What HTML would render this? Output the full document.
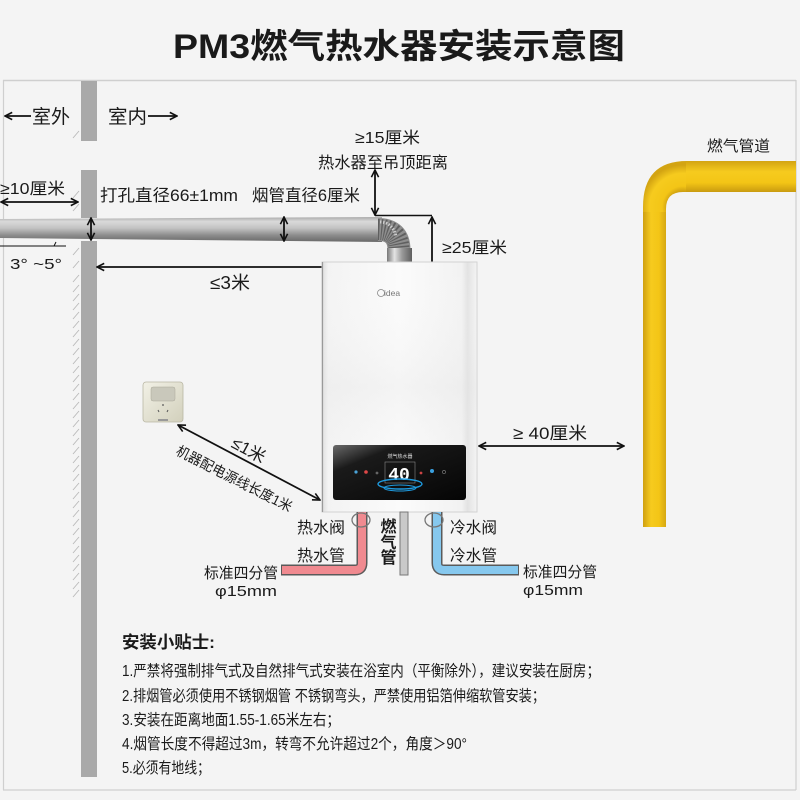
<!DOCTYPE html>
<html><head><meta charset="utf-8">
<style>
html,body{margin:0;padding:0;background:#f4f4f4;}
svg{display:block;}
text{font-family:"Liberation Sans","Noto Sans CJK SC",sans-serif;fill:#1a1a1a;}
</style></head>
<body>
<svg width="800" height="800" viewBox="0 0 800 800" xmlns="http://www.w3.org/2000/svg">
<defs>
  <marker id="ah" viewBox="0 0 10 10" refX="9" refY="5" markerWidth="9" markerHeight="9" markerUnits="userSpaceOnUse" orient="auto-start-reverse">
    <path d="M1,1 L9,5 L1,9" fill="none" stroke="#111" stroke-width="1.8"/>
  </marker>
  <linearGradient id="pipeG" x1="0" y1="0" x2="0" y2="1">
    <stop offset="0" stop-color="#a9a9a9"/>
    <stop offset="0.18" stop-color="#dadada"/>
    <stop offset="0.45" stop-color="#c2c2c2"/>
    <stop offset="0.72" stop-color="#8e8e8e"/>
    <stop offset="1" stop-color="#686868"/>
  </linearGradient>
  <linearGradient id="collarG" x1="0" y1="0" x2="1" y2="0">
    <stop offset="0" stop-color="#777"/>
    <stop offset="0.3" stop-color="#e4e4e4"/>
    <stop offset="0.6" stop-color="#9a9a9a"/>
    <stop offset="1" stop-color="#5e5e5e"/>
  </linearGradient>
  <linearGradient id="bodyG" x1="0" y1="0" x2="1" y2="0">
    <stop offset="0" stop-color="#dcdcdc"/>
    <stop offset="0.04" stop-color="#f3f3f3"/>
    <stop offset="0.5" stop-color="#fbfbfb"/>
    <stop offset="0.9" stop-color="#f2f2f2"/>
    <stop offset="0.94" stop-color="#e2e2e2"/>
    <stop offset="1" stop-color="#f4f4f4"/>
  </linearGradient>
  <linearGradient id="bodyV" x1="0" y1="0" x2="0" y2="1">
    <stop offset="0" stop-color="#ffffff" stop-opacity="0"/>
    <stop offset="0.5" stop-color="#e6e6e6" stop-opacity="0.35"/>
    <stop offset="1" stop-color="#ffffff" stop-opacity="0"/>
  </linearGradient>
  <linearGradient id="panelG" x1="0" y1="0" x2="1" y2="1">
    <stop offset="0" stop-color="#6a6a6a"/>
    <stop offset="0.25" stop-color="#1a1a1a"/>
    <stop offset="1" stop-color="#050505"/>
  </linearGradient>
  <linearGradient id="yelV" x1="0" y1="0" x2="1" y2="0">
    <stop offset="0" stop-color="#cf9f10"/>
    <stop offset="0.35" stop-color="#f6cb1e"/>
    <stop offset="0.7" stop-color="#f3c516"/>
    <stop offset="1" stop-color="#d6a712"/>
  </linearGradient>
  <linearGradient id="yelH" x1="0" y1="0" x2="0" y2="1">
    <stop offset="0" stop-color="#d3a412"/>
    <stop offset="0.35" stop-color="#f6cb1e"/>
    <stop offset="0.7" stop-color="#f3c516"/>
    <stop offset="1" stop-color="#c99b10"/>
  </linearGradient>
  <radialGradient id="yelC" cx="683" cy="207" r="42" gradientUnits="userSpaceOnUse">
    <stop offset="0.35" stop-color="#c99b10"/>
    <stop offset="0.5" stop-color="#f3c516"/>
    <stop offset="0.8" stop-color="#f6cb1e"/>
    <stop offset="1" stop-color="#d3a412"/>
  </radialGradient>
  <linearGradient id="sockG" x1="0" y1="0" x2="1" y2="1">
    <stop offset="0" stop-color="#f2f1e6"/>
    <stop offset="1" stop-color="#d2d0bc"/>
  </linearGradient>
</defs>

<!-- frame -->
<rect x="0" y="0" width="800" height="800" fill="#f4f4f4"/>
<line x1="3" y1="80.5" x2="796" y2="80.5" stroke="#cfcfcf" stroke-width="1.5"/>
<line x1="3.5" y1="80" x2="3.5" y2="790" stroke="#cfcfcf" stroke-width="1.2"/>
<line x1="796" y1="80" x2="796" y2="790" stroke="#cfcfcf" stroke-width="1.2"/>
<line x1="3" y1="790" x2="796" y2="790" stroke="#cfcfcf" stroke-width="1.2"/>

<!-- title -->
<text x="173" y="58" font-size="34" font-weight="bold" textLength="452" lengthAdjust="spacingAndGlyphs">PM3燃气热水器安装示意图</text>

<!-- wall -->
<rect x="81" y="81" width="16" height="60" fill="#a9a9a9"/>
<rect x="81" y="170" width="16" height="48" fill="#a9a9a9"/>
<rect x="81" y="241" width="16" height="536" fill="#a9a9a9"/>
<g stroke="#b9b9b9" stroke-width="0.9">
  <line x1="73" y1="138" x2="79" y2="131"/>
  <line x1="73" y1="198" x2="79" y2="191"/>
  <line x1="73" y1="211" x2="79" y2="204"/>
  <line x1="73" y1="255" x2="79" y2="248"/>
  <line x1="73" y1="268" x2="79" y2="261"/>
  <line x1="73" y1="282" x2="79" y2="275"/>
  <line x1="73" y1="292" x2="79" y2="285"/>
  <line x1="73" y1="301" x2="79" y2="294"/>
  <line x1="73" y1="310" x2="79" y2="303"/>
  <line x1="73" y1="319" x2="79" y2="312"/>
  <line x1="73" y1="328" x2="79" y2="321"/>
  <line x1="73" y1="337" x2="79" y2="330"/>
  <line x1="73" y1="346" x2="79" y2="339"/>
  <line x1="73" y1="355" x2="79" y2="348"/>
  <line x1="73" y1="364" x2="79" y2="357"/>
  <line x1="73" y1="373" x2="79" y2="366"/>
  <line x1="73" y1="382" x2="79" y2="375"/>
  <line x1="73" y1="391" x2="79" y2="384"/>
  <line x1="73" y1="400" x2="79" y2="393"/>
  <line x1="73" y1="409" x2="79" y2="402"/>
  <line x1="73" y1="418" x2="79" y2="411"/>
  <line x1="73" y1="427" x2="79" y2="420"/>
  <line x1="73" y1="436" x2="79" y2="429"/>
  <line x1="73" y1="445" x2="79" y2="438"/>
  <line x1="73" y1="454" x2="79" y2="447"/>
  <line x1="73" y1="463" x2="79" y2="456"/>
  <line x1="73" y1="472" x2="79" y2="465"/>
  <line x1="73" y1="481" x2="79" y2="474"/>
  <line x1="73" y1="490" x2="79" y2="483"/>
  <line x1="73" y1="499" x2="79" y2="492"/>
  <line x1="73" y1="508" x2="79" y2="501"/>
  <line x1="73" y1="517" x2="79" y2="510"/>
  <line x1="73" y1="526" x2="79" y2="519"/>
  <line x1="73" y1="535" x2="79" y2="528"/>
  <line x1="73" y1="544" x2="79" y2="537"/>
  <line x1="73" y1="553" x2="79" y2="546"/>
  <line x1="73" y1="562" x2="79" y2="555"/>
  <line x1="73" y1="571" x2="79" y2="564"/>
  <line x1="73" y1="580" x2="79" y2="573"/>
  <line x1="73" y1="589" x2="79" y2="582"/>
  <line x1="73" y1="597" x2="79" y2="590"/>
</g>

<!-- outdoor / indoor -->
<line x1="5" y1="116" x2="31" y2="116" stroke="#111" stroke-width="1.8" marker-start="url(#ah)"/>
<text x="32" y="123" font-size="19" textLength="38" lengthAdjust="spacingAndGlyphs">室外</text>
<text x="108" y="123" font-size="19" textLength="39" lengthAdjust="spacingAndGlyphs">室内</text>
<line x1="148" y1="116" x2="177" y2="116" stroke="#111" stroke-width="1.8" marker-end="url(#ah)"/>

<!-- flue pipe -->
<polygon points="0,219 382,217 382,242 0,238" fill="url(#pipeG)"/>
<path d="M378,229.5 Q399,229.5 399,250" fill="none" stroke="#8e8e8e" stroke-width="23"/>
<path d="M378,229.5 Q399,229.5 399,250" fill="none" stroke="#5f5f5f" stroke-width="21" stroke-dasharray="1.3 1.7"/>
<path d="M380,222 Q392,222 396,236" fill="none" stroke="#cfcfcf" stroke-width="3" stroke-dasharray="1.3 1.7"/>
<rect x="387" y="248" width="25" height="14" fill="url(#collarG)"/>

<!-- left side dims -->
<text x="0" y="194" font-size="16" textLength="65" lengthAdjust="spacingAndGlyphs">≥10厘米</text>
<line x1="1" y1="202" x2="78" y2="202" stroke="#111" stroke-width="1.8" marker-start="url(#ah)" marker-end="url(#ah)"/>
<line x1="0" y1="246" x2="66" y2="246" stroke="#111" stroke-width="1"/>
<line x1="54" y1="246" x2="56" y2="242" stroke="#111" stroke-width="1"/>
<text x="10" y="269" font-size="15" textLength="52" lengthAdjust="spacingAndGlyphs">3°  ~5°</text>
<line x1="91" y1="218" x2="91" y2="240" stroke="#111" stroke-width="1.8" marker-start="url(#ah)" marker-end="url(#ah)"/>
<text x="100" y="201" font-size="16.5" textLength="138" lengthAdjust="spacingAndGlyphs">打孔直径66±1mm</text>
<text x="252" y="201" font-size="16.5" textLength="108" lengthAdjust="spacingAndGlyphs">烟管直径6厘米</text>
<line x1="284" y1="217" x2="284" y2="241" stroke="#111" stroke-width="1.8" marker-start="url(#ah)" marker-end="url(#ah)"/>

<!-- <=3m -->
<line x1="97" y1="267" x2="322" y2="267" stroke="#111" stroke-width="1.8" marker-start="url(#ah)"/>
<text x="210" y="289" font-size="18" textLength="40" lengthAdjust="spacingAndGlyphs">≤3米</text>

<!-- top clearance -->
<text x="355" y="143" font-size="16" textLength="65" lengthAdjust="spacingAndGlyphs">≥15厘米</text>
<text x="318" y="168" font-size="16" textLength="130" lengthAdjust="spacingAndGlyphs">热水器至吊顶距离</text>
<line x1="375" y1="170" x2="375" y2="215" stroke="#111" stroke-width="1.8" marker-start="url(#ah)" marker-end="url(#ah)"/>
<line x1="375" y1="215.5" x2="432" y2="215.5" stroke="#111" stroke-width="1.6"/>
<line x1="432" y1="262" x2="432" y2="217" stroke="#111" stroke-width="1.8" marker-end="url(#ah)"/>
<text x="442" y="253" font-size="16" textLength="65" lengthAdjust="spacingAndGlyphs">≥25厘米</text>

<!-- heater -->
<rect x="322" y="262" width="155" height="250" fill="url(#bodyG)" stroke="#d2d2d2" stroke-width="1"/>
<rect x="322" y="262" width="155" height="250" fill="url(#bodyV)"/>
<line x1="322.5" y1="262" x2="322.5" y2="512" stroke="#9a9a9a" stroke-width="1.2"/>
<circle cx="381" cy="293" r="3.5" fill="none" stroke="#888" stroke-width="0.8"/>
<text x="384" y="296" font-size="8.5" style="fill:#777">idea</text>
<rect x="333" y="445" width="133" height="55" rx="3" fill="url(#panelG)"/>
<text x="400" y="458" font-size="5" text-anchor="middle" style="fill:#ddd">燃气热水器</text>
<rect x="385" y="462" width="30" height="21" fill="none" stroke="#888" stroke-width="0.6"/>
<text x="399" y="480" font-size="18" text-anchor="middle" style="fill:#fff;font-family:'Liberation Mono',monospace" font-weight="bold">40</text>
<ellipse cx="400" cy="484" rx="22" ry="5" fill="none" stroke="#1e9be0" stroke-width="1.4"/>
<ellipse cx="400" cy="488" rx="16" ry="3" fill="none" stroke="#1e9be0" stroke-width="1"/>
<circle cx="356" cy="472" r="1.6" fill="#4aa3d8"/>
<circle cx="366" cy="472" r="1.8" fill="#e04848"/>
<circle cx="377" cy="473" r="1.4" fill="#666"/>
<circle cx="421" cy="473" r="1.4" fill="#c44"/>
<circle cx="432" cy="471" r="2" fill="#3aa0e0"/>
<circle cx="444" cy="472" r="1.6" fill="none" stroke="#888" stroke-width="0.6"/>

<!-- >=40cm -->
<text x="513" y="439" font-size="17" textLength="74" lengthAdjust="spacingAndGlyphs">≥ 40厘米</text>
<line x1="479" y1="446" x2="624" y2="446" stroke="#111" stroke-width="1.8" marker-start="url(#ah)" marker-end="url(#ah)"/>

<!-- gas pipe yellow -->
<path d="M643,527 L643,207 Q643,161 687,161 L796,161 L796,192 L683,192 Q666,192 666,209 L666,527 Z" fill="url(#yelC)"/>
<rect x="643" y="212" width="23" height="315" fill="url(#yelV)"/>
<rect x="686" y="161" width="110" height="31" fill="url(#yelH)"/>
<text x="707" y="151" font-size="15" textLength="63" lengthAdjust="spacingAndGlyphs">燃气管道</text>

<!-- socket -->
<rect x="143" y="382" width="40" height="40" rx="3" fill="url(#sockG)" stroke="#b9b7a4" stroke-width="0.8"/>
<rect x="151" y="387" width="24" height="14" rx="2" fill="#c9c8bb" stroke="#aaa89a" stroke-width="0.5"/>
<circle cx="163" cy="405" r="0.9" fill="#555"/>
<line x1="158" y1="410" x2="159" y2="412" stroke="#555" stroke-width="1"/>
<line x1="168" y1="410" x2="167" y2="412" stroke="#555" stroke-width="1"/>
<rect x="158" y="419" width="10" height="2" fill="#999"/>

<!-- cable length -->
<line x1="178" y1="425" x2="320" y2="500" stroke="#111" stroke-width="1.8" marker-start="url(#ah)" marker-end="url(#ah)"/>
<text transform="translate(246,455) rotate(28)" font-size="17" text-anchor="middle">≤1米</text>
<text transform="translate(232,483) rotate(27)" font-size="14" text-anchor="middle" textLength="128" lengthAdjust="spacingAndGlyphs">机器配电源线长度1米</text>

<!-- water pipes -->
<path d="M362,512 V563 Q362,570 355,570 H281" fill="none" stroke="#5a5a5a" stroke-width="11"/>
<path d="M362,512 V563 Q362,570 355,570 H282" fill="none" stroke="#f08a90" stroke-width="8"/>
<path d="M437,512 V563 Q437,570 444,570 H519" fill="none" stroke="#5a5a5a" stroke-width="11"/>
<path d="M437,512 V563 Q437,570 444,570 H518" fill="none" stroke="#86c8ee" stroke-width="8"/>
<rect x="400" y="512" width="8" height="63" fill="#c9c9c9" stroke="#777" stroke-width="1"/>
<ellipse cx="361" cy="520" rx="9" ry="7" fill="none" stroke="#777" stroke-width="1.3"/>
<ellipse cx="434" cy="520" rx="9" ry="7" fill="none" stroke="#777" stroke-width="1.3"/>

<text x="297" y="533" font-size="16" textLength="48" lengthAdjust="spacingAndGlyphs">热水阀</text>
<text x="297" y="561" font-size="16" textLength="48" lengthAdjust="spacingAndGlyphs">热水管</text>
<text x="204" y="578" font-size="15" textLength="74" lengthAdjust="spacingAndGlyphs">标准四分管</text>
<text x="215" y="596" font-size="15" textLength="62" lengthAdjust="spacingAndGlyphs">φ15mm</text>
<text x="450" y="533" font-size="16" textLength="47" lengthAdjust="spacingAndGlyphs">冷水阀</text>
<text x="450" y="561" font-size="16" textLength="47" lengthAdjust="spacingAndGlyphs">冷水管</text>
<text x="523" y="577" font-size="15" textLength="74" lengthAdjust="spacingAndGlyphs">标准四分管</text>
<text x="523" y="595" font-size="15" textLength="60" lengthAdjust="spacingAndGlyphs">φ15mm</text>
<text x="388.5" y="532" font-size="16" font-weight="bold" text-anchor="middle">燃</text>
<text x="388.5" y="548" font-size="16" font-weight="bold" text-anchor="middle">气</text>
<text x="388.5" y="563" font-size="16" font-weight="bold" text-anchor="middle">管</text>

<!-- tips -->
<text x="122" y="648" font-size="17" font-weight="bold" textLength="93" lengthAdjust="spacingAndGlyphs">安装小贴士:</text>
<g font-size="15.5" style="fill:#222">
<text x="122" y="676" textLength="478" lengthAdjust="spacingAndGlyphs">1.严禁将强制排气式及自然排气式安装在浴室内（平衡除外），建议安装在厨房；</text>
<text x="122" y="701" textLength="423" lengthAdjust="spacingAndGlyphs">2.排烟管必须使用不锈钢烟管 不锈钢弯头，严禁使用铝箔伸缩软管安装；</text>
<text x="122" y="725" textLength="218" lengthAdjust="spacingAndGlyphs">3.安装在距离地面1.55-1.65米左右；</text>
<text x="122" y="749" textLength="345" lengthAdjust="spacingAndGlyphs">4.烟管长度不得超过3m，转弯不允许超过2个，角度＞90°</text>
<text x="122" y="773" textLength="88" lengthAdjust="spacingAndGlyphs">5.必须有地线；</text>
</g>
</svg>
</body></html>
